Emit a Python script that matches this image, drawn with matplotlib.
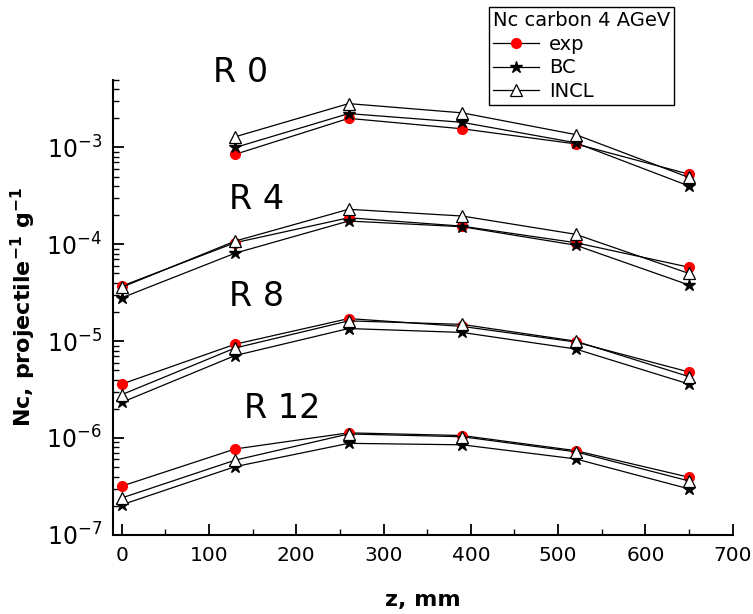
import matplotlib
matplotlib.use("Agg")
import matplotlib.pyplot as plt
from matplotlib.ticker import LogLocator, MultipleLocator, NullFormatter

# z positions (mm)
z = [0, 130, 260, 390, 520, 650]
z_r0 = [130, 260, 390, 520, 650]

# R 0
r0_exp = [8.5e-4, 2.0e-3, 1.56e-3, 1.09e-3, 5.3e-4]
r0_bc = [1.0e-3, 2.24e-3, 1.82e-3, 1.12e-3, 4.0e-4]
r0_incl = [1.29e-3, 2.84e-3, 2.28e-3, 1.36e-3, 4.9e-4]

# R 4
r4_exp = [3.7e-5, 1.04e-4, 1.88e-4, 1.54e-4, 1.04e-4, 5.8e-5]
r4_bc = [2.8e-5, 8.1e-5, 1.74e-4, 1.52e-4, 9.8e-5, 3.8e-5]
r4_incl = [3.6e-5, 1.08e-4, 2.3e-4, 1.96e-4, 1.27e-4, 5.0e-5]

# R 8
r8_exp = [3.6e-6, 9.3e-6, 1.71e-5, 1.42e-5, 9.8e-6, 4.8e-6]
r8_bc = [2.33e-6, 7.1e-6, 1.35e-5, 1.23e-5, 8.3e-6, 3.6e-6]
r8_incl = [2.8e-6, 8.5e-6, 1.62e-5, 1.49e-5, 1.0e-5, 4.3e-6]

# R 12
r12_exp = [3.18e-7, 7.7e-7, 1.13e-6, 1.06e-6, 7.4e-7, 3.93e-7]
r12_bc = [2.04e-7, 5.06e-7, 8.8e-7, 8.5e-7, 6.08e-7, 2.98e-7]
r12_incl = [2.4e-7, 5.9e-7, 1.1e-6, 1.03e-6, 7.2e-7, 3.6e-7]

groups = [
    (z_r0, r0_exp, r0_bc, r0_incl),
    (z, r4_exp, r4_bc, r4_incl),
    (z, r8_exp, r8_bc, r8_incl),
    (z, r12_exp, r12_bc, r12_incl),
]

labels = ["R 0", "R 4", "R 8", "R 12"]
label_x = [136, 155, 155, 184]
label_y = [5.9e-3, 2.9e-4, 2.9e-5, 2.0e-6]

fig = plt.figure(figsize=(7.53, 6.14), dpi=100)
ax = fig.add_axes([0.150, 0.129, 0.823, 0.741])

for i, (zz, e, b, n) in enumerate(groups):
    l1, = ax.plot(zz, e, color="black", lw=0.9, marker="o", ms=7,
                  mfc="red", mec="red", zorder=3)
    l2, = ax.plot(zz, b, color="black", lw=0.9, marker="*", ms=9,
                  mfc="black", mec="black", zorder=3)
    l3, = ax.plot(zz, n, color="black", lw=0.9, marker="^", ms=9,
                  mfc="white", mec="black", mew=0.9, zorder=4)
    if i == 0:
        handles = [l1, l2, l3]

for lab, xx, yy in zip(labels, label_x, label_y):
    ax.text(xx, yy, lab, fontsize=24, ha="center", va="center", clip_on=False)

ax.set_yscale("log")
ax.set_xlim(-10, 700)
ax.set_ylim(1e-7, 5e-3)
ax.xaxis.set_major_locator(MultipleLocator(100))
ax.xaxis.set_minor_locator(MultipleLocator(50))
ax.yaxis.set_major_locator(LogLocator(base=10))
ax.yaxis.set_minor_locator(LogLocator(base=10, subs=range(2, 10)))
ax.yaxis.set_minor_formatter(NullFormatter())

ax.spines["top"].set_visible(False)
ax.spines["right"].set_visible(False)
ax.spines["left"].set_linewidth(1.5)
ax.spines["bottom"].set_linewidth(1.5)
ax.tick_params(which="both", direction="in", pad=8)
ax.tick_params(axis="x", labelsize=14.5)
ax.tick_params(axis="y", labelsize=17)
ax.tick_params(which="major", length=8, width=1.3)
ax.tick_params(which="minor", length=4, width=1.0)

ax.set_xlabel("z, mm", fontsize=16, fontweight="bold", labelpad=18)
ax.set_ylabel(r"Nc, projectile$^{\mathbf{-1}}$ g$^{\mathbf{-1}}$", fontsize=16,
              fontweight="bold", labelpad=6)

leg = fig.legend(handles, ["exp", "BC", "INCL"], title="Nc carbon 4 AGeV",
                 loc="upper left", bbox_to_anchor=(0.649, 0.989),
                 fontsize=14, title_fontsize=14, frameon=True, fancybox=False,
                 edgecolor="black", framealpha=1, borderpad=0.2,
                 handlelength=2.4, handletextpad=0.5, labelspacing=0.25,
                 borderaxespad=0)
leg._legend_box.align = "left"
leg.get_frame().set_linewidth(1.0)

fig.savefig("out.png", dpi=100)
